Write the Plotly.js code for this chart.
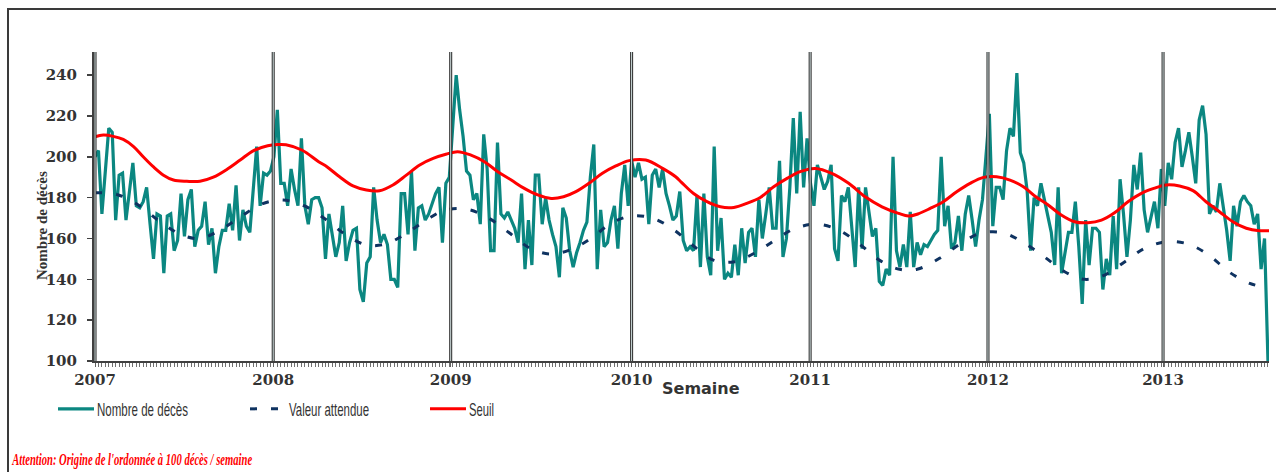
<!DOCTYPE html>
<html>
<head>
<meta charset="utf-8">
<script src="https://cdn.plot.ly/plotly-3.0.1.min.js"></script>
<style>
html,body{margin:0;padding:0;background:#fff;}
#wrap{position:relative;width:1276px;height:472px;overflow:hidden;}
#chart{position:absolute;left:0;top:0;width:1276px;height:472px;}
#frame{position:absolute;left:7px;top:8px;width:1400px;height:600px;border:2px solid #3a3a3a;box-sizing:border-box;pointer-events:none;}
</style>
</head>
<body>
<div id="wrap"><div id="chart"></div><div id="frame"></div></div>
<script>
// Weekly number of deaths, from week 1 of 2007
const deaths = [
200,203,172,193,214,212,169,191,192,169,
183,197,176,175,178,185,167,150,172,171,
143,171,172,154,159,182,161,179,184,156,
164,166,178,157,165,143,156,164,164,177,
164,186,159,174,166,163,184,205,176,192,
191,193,
200,223,187,187,176,194,184,176,209,176,167,179,180,180,175,150,
172,161,151,158,176,149,158,164,165,135,129,148,151,185,169,158,162,157,140,140,
136,182,182,162,193,154,175,176,169,172,177,182,185,158,187,190,215,240,
223,210,193,191,179,182,167,211,194,154,154,207,172,170,173,169,165,158,182,145,
169,147,191,191,167,180,169,162,156,141,175,170,
154,146,153,158,164,168,190,206,145,174,156,158,169,176,155,182,196,176,198,190,
197,189,190,167,191,194,185,194,182,176,169,171,183,159,
154,156,154,181,146,182,151,142,205,154,170,140,143,141,157,142,165,148,163,165,
151,179,160,172,185,165,165,198,151,160,185,219,182,222,
185,209,187,176,196,190,184,188,196,155,149,181,178,185,166,146,185,155,185,172,
161,165,139,137,145,142,200,154,146,157,146,173,146,
158,152,157,156,159,162,164,200,166,176,155,158,171,154,172,181,169,156,169,179,
200,221,166,185,185,179,203,214,210,241,202,197,183,154,180,176,
187,179,170,163,147,185,143,152,163,163,178,156,128,169,147,165,165,163,135,150,
142,171,145,189,172,151,169,196,184,202,174,163,170,178,
165,194,176,197,189,207,214,195,203,212,200,187,218,225,211,172,176,173,187,176,
164,149,176,166,178,181,178,176,167,172,145,160,100
];
// Threshold (Seuil), read at these week positions
const seuilWeek = [0,2.4,5.3,8.2,11.2,14,17,19.9,22.8,26.7,30.5,34.4,38.5,42.2,46.1,50.2,53,55.5,60.1,65,67.5,71.1,75,78.9,82.7,86.6,90.5,94.4,98.3,102,105.4,109.3,113.2,117.1,121,124.8,128.7,132.6,136.2,139.8,143.6,147.5,151.4,155.3,160.1,165,168.8,170.5,174,177.9,181.8,185.7,189.5,193.4,197.3,201.2,205,209.4,214.2,219.1,223.9,228.8,233.6,236.5,239.2,242.8,246.6,250.5,254.4,258.3,262.1,266,269.9,273.5,277.1,280.9,284.8,288.7,292.6,296.4,300.3,304.2,307.8,311.4,315.3,319.2,323,326.9,330.8,334.7,338.5,341.5];
const seuilVal = [209.8,210.6,210,208.5,205,200,195,191,188.6,188,188,190,194,198.4,203,205.4,206,205.9,203.3,197.6,195,190.2,185.7,183.7,183.4,186.2,191,196,199.2,201.2,202.5,200.8,197.6,192.7,188.6,184.5,181.3,179.6,180.4,182.9,187,191.9,195.5,198.1,198.4,194.3,190.2,187.5,182,178,175.5,175.2,177.2,180.1,185.3,189.4,192.7,194.3,191.9,187,180.4,175.5,172.3,171,172,174.7,178,182.9,187,189.9,190.2,188.6,185.3,180.4,176.4,171.5,168.2,167.7,169,172.6,178,182.1,184.5,186.2,185.7,183.4,178,173.1,168.2,165,163.8,163.8];
// Expected value (Valeur attendue), read at these week positions
const attWeek = [0,6.8,13.6,18.9,25.2,30.5,36.3,42.4,48.4,54.7,60.9,66.9,73,78.9,84.5,90.5,96.3,101.8,108.5,114.6,120.4,126.5,132.3,137.9,144.2,150,156.1,162.3,168.4,174,179.8,185.9,191.6,197.7,203.5,210.1,216.2,222,228,233.9,239,245.5,251.5,257.3,263.9,269.9,275.9,281.9,287.7,293.5,299.4,305.2,311.6,317.7,323.8,329.6,335.7,340.7];
const attVal = [182.4,181.3,175.2,168.2,161.7,160,164,170.7,176.8,178.8,175.9,169.5,161.7,156.8,157.3,162.5,169,173.9,174.2,169.8,162.8,155.2,152.4,154.3,160,167.4,171,169.8,164.1,156.3,149.4,148.6,152.7,159.2,164.9,167,164.1,157.6,149.4,144.9,144.9,150.3,157.3,162.5,162.8,158,151.1,143.7,140,142.1,148.6,155.2,158.4,157.3,151.9,143.7,138,135.9];
// Year tick positions (in weeks) and labels
const yearTicks = [0,51.8,103.4,156,207.9,259.6,310.5];
const yearLabels = ['2007','2008','2009','2010','2011','2012','2013'];
const yTicks = [100,120,140,160,180,200,220,240];
const seriesNames = ['Nombre de décès','Valeur attendue','Seuil'];
const noteText = "Attention: Origine de l'ordonnée à 100 décès / semaine";
const sourceText = 'Sources : INSEE & InVS';

const W = 1276, H = 472, ML = 94, MR = 7, MT = 52, MB = 111;
const PW = W - ML - MR, PH = H - MT - MB;
const px = x => (x - ML) / PW;
const py = y => (H - MB - y) / PH;

const weeks = deaths.map((_, i) => i);

const traces = [
  {x: weeks, y: deaths, type: 'scatter', mode: 'lines', name: seriesNames[0],
   line: {color: '#0b8781', width: 3.2}, legend: 'legend'},
  {x: attWeek, y: attVal, type: 'scatter', mode: 'lines', name: seriesNames[1],
   line: {color: '#0f3361', width: 3, dash: '7px,14px', shape: 'spline'}, legend: 'legend2'},
  {x: seuilWeek, y: seuilVal, type: 'scatter', mode: 'lines', name: seriesNames[2],
   line: {color: '#ff0000', width: 3, shape: 'spline'}, legend: 'legend3'}
];

const shapes = [];
yearTicks.forEach(t => {
  shapes.push({type: 'line', xref: 'x', yref: 'paper', x0: t, x1: t, y0: 0, y1: 1,
    line: {color: '#2a2a2a', width: 3}, layer: 'above'});
  shapes.push({type: 'line', xref: 'x', yref: 'paper', x0: t, x1: t, y0: 0, y1: 1,
    line: {color: '#d4e2e2', width: 1}, layer: 'above'});
});

const legFont = {family: 'Liberation Sans, Arial, sans-serif', size: 19, color: '#333333'};
const legBase = {orientation: 'h', xanchor: 'left', yanchor: 'middle', y: py(409),
  bgcolor: 'rgba(0,0,0,0)', font: legFont, itemclick: false, itemdoubleclick: false};

const layout = {
  width: W, height: H,
  margin: {l: ML, r: MR, t: MT, b: MB, pad: 0},
  paper_bgcolor: '#ffffff', plot_bgcolor: '#ffffff',
  showlegend: true,
  legend: Object.assign({}, legBase, {x: px(57)}),
  legend2: Object.assign({}, legBase, {x: px(249)}),
  legend3: Object.assign({}, legBase, {x: px(429)}),
  xaxis: {
    range: [-0.3, 341.3], showgrid: false, zeroline: false,
    showline: true, linecolor: '#404040', linewidth: 1.5,
    tickmode: 'array', tickvals: yearTicks, ticktext: yearLabels,
    ticks: 'outside', ticklen: 4, tickcolor: '#606060', tickwidth: 1,
    tickfont: {family: 'DejaVu Serif', size: 15, color: '#333333', weight: 'bold'},
    minor: {tickmode: 'linear', tick0: 0, dtick: 1, ticks: 'outside', ticklen: 4, tickcolor: '#707070', tickwidth: 1, showgrid: false}
  },
  yaxis: {
    range: [100, 251.3], showgrid: false, zeroline: false,
    showline: true, linecolor: '#404040', linewidth: 2,
    tickmode: 'array', tickvals: yTicks,
    ticks: 'outside', ticklen: 5, tickcolor: '#404040', tickwidth: 1.5,
    ticklabelstandoff: 7,
    tickfont: {family: 'DejaVu Serif', size: 15, color: '#333333', weight: 'bold'}
  },
  shapes: shapes,
  annotations: [
    {text: 'Nombre de décès', xref: 'paper', yref: 'paper', x: px(42), y: py(226),
     textangle: -90, showarrow: false, xanchor: 'center', yanchor: 'middle',
     font: {family: 'Liberation Serif', size: 15, color: '#333333', weight: 'bold'}},
    {text: 'Semaine', xref: 'paper', yref: 'paper', x: px(701), y: py(388),
     showarrow: false, xanchor: 'center', yanchor: 'middle',
     font: {family: 'DejaVu Sans', size: 16, color: '#333333', weight: 'bold'}},
    {text: noteText, xref: 'paper', yref: 'paper',
     x: px(132), y: py(459), showarrow: false, xanchor: 'center', yanchor: 'middle',
     font: {family: 'Liberation Serif', size: 17, color: '#ff0000', weight: 'bold', style: 'italic'}},
    {text: sourceText, xref: 'paper', yref: 'paper',
     x: px(63), y: py(477), showarrow: false, xanchor: 'center', yanchor: 'middle',
     font: {family: 'Liberation Serif', size: 17, color: '#333333', style: 'italic'}}
  ]
};

// Target rendered widths (px) of the condensed texts in the original
const legendWidths = {};
legendWidths[seriesNames[0]] = 91;
legendWidths[seriesNames[1]] = 80;
legendWidths[seriesNames[2]] = 25;
const noteWidths = {};
noteWidths[noteText] = 240;
noteWidths[sourceText] = 103;

function fit(t, w) {
  if (w && t.getAttribute('textLength') !== String(w)) {
    t.setAttribute('textLength', w);
    t.setAttribute('lengthAdjust', 'spacingAndGlyphs');
  }
}
function condense() {
  const root = document.getElementById('chart');
  root.querySelectorAll('text').forEach(t => {
    const c = t.textContent.trim();
    if (t.classList.contains('annotation-text')) {
      fit(t, noteWidths[c]);
    } else if (legendWidths[c]) {
      fit(t, legendWidths[c]);
    }
  });
  root.querySelectorAll('.legendlines path').forEach(p => {
    if (p.getAttribute('d') !== 'M1,0h36') p.setAttribute('d', 'M1,0h36');
  });
}
const obs = new MutationObserver(() => condense());
obs.observe(document.getElementById('chart'), {childList: true, subtree: true, characterData: true});

Plotly.newPlot('chart', traces, layout, {displayModeBar: false, staticPlot: true}).then(() => {
  condense();
  requestAnimationFrame(condense);
  setTimeout(condense, 20);
  setTimeout(condense, 150);
});
</script>
</body>
</html>
